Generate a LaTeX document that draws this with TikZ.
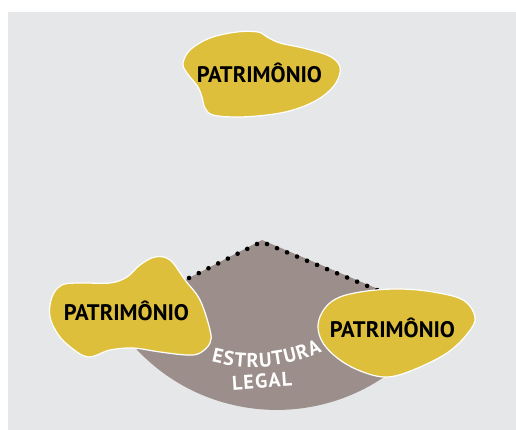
\documentclass[tikz,border=0pt]{standalone}
\usepackage{fontspec}
\setmainfont{PT Sans}
\usepackage{tikz}
\usetikzlibrary{decorations.text}

\definecolor{bgGray}{RGB}{230,231,232}
\definecolor{blobYellow}{RGB}{222,191,59}
\definecolor{legalTaupe}{RGB}{156,143,139}

\tikzset{
  blob/.style={fill=blobYellow, draw=white, line width=1.2pt},
  patlabel/.style={font=\bfseries\fontsize{22.5}{22.5}\selectfont, inner sep=0pt, anchor=base},
  dotline/.style={line width=4.6pt, line cap=round, dash pattern=on 0pt off 10.85pt}
}

\begin{document}
\begin{tikzpicture}[x=1pt,y=-1pt]
\useasboundingbox (0,0) rectangle (516,430);
\fill[white] (0,0) rectangle (516,430);
\fill[bgGray] (8,12) rectangle (516,430);

\coordinate (apex) at (262,240);
\coordinate (dotL) at (257,244);
\coordinate (dotR) at (267,244);

% estrutura legal
\fill[legalTaupe] (apex) -- (378,289) -- (410,330) -- (400,365)
  arc[start angle=50, end angle=140, radius=192] -- (160,293) -- cycle;

\draw[dotline] (dotL) -- (167,289);
\draw[dotline] (dotR) -- (388,294.6);

% patrimonio blobs
\draw[blob] plot[smooth cycle, tension=0.6] coordinates {
  (183,63) (190,50) (210,38) (237,32) (258,32) (267,37) (280,43) (303,48)
  (327,55) (338,63) (340,73) (333,87) (317,100) (293,110) (267,115)
  (237,117) (213,115) (205,108) (202,97) (198,87) (190,77) (185,70)};

\draw[blob] plot[smooth cycle, tension=0.6] coordinates {
  (155,257) (170,260) (185,280) (200,300) (210,330) (210,343) (200,353)
  (187,355) (160,352) (133,348) (110,350) (97,355) (88,357) (77,352)
  (60,337) (50,317) (52,297) (62,285) (80,283) (110,283) (127,277) (140,265)};

\draw[blob] plot[smooth cycle, tension=0.6] coordinates {
  (318,325) (325,308) (340,297) (367,291) (400,289) (433,292) (463,300)
  (475,317) (468,333) (447,353) (413,370) (387,377) (363,372) (340,360) (323,343)};

\node[patlabel] (patTop) at (259.5,83) {PATRIMÔNIO};
\node[patlabel] (patLeft) at (126.5,320) {PATRIMÔNIO};
\node[patlabel] (patRight) at (392.5,337) {PATRIMÔNIO};

\path[decorate, decoration={text along path,
  text={|\bfseries\fontsize{20}{20}\selectfont|ESTRUTURA},
  text color=white, text align=fit to path}]
  (211.4,361.7) arc[start angle=104.6, end angle=65.2, radius=165];
\node[font=\bfseries\fontsize{20}{20}\selectfont\addfontfeature{LetterSpace=6},
  text=white, inner sep=0pt, anchor=base, rotate=4] (legal) at (262.5,388) {LEGAL};
\end{tikzpicture}
\end{document}
